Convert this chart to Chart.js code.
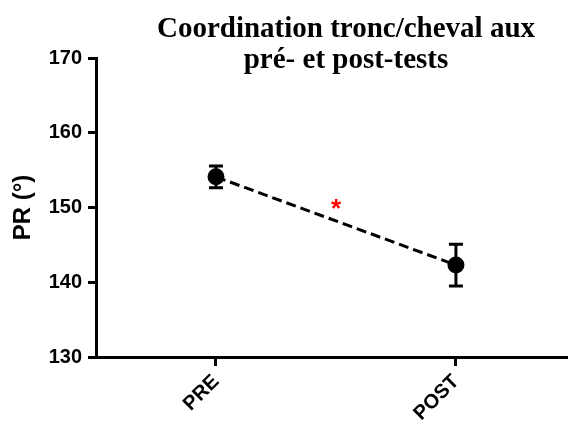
<!DOCTYPE html>
<html>
<head>
<meta charset="utf-8">
<script src="https://cdn.jsdelivr.net/npm/chart.js@4/dist/chart.umd.min.js"></script>
<style>
  body { margin: 0; background: #fff; }
  canvas { display: block; }
</style>
</head>
<body>
<canvas id="myChart" width="568" height="423"></canvas>
<script>
const categories = ['PRE', 'POST'];
const means = [154.1, 142.3];
const sem = [1.45, 2.8];
const yTicks = [130, 140, 150, 160, 170];
const titleLines = ['Coordination tronc/cheval aux', 'pré- et post-tests'];
// significance marker between the two tests
const sigMarks = [{ x: 0.5, y: 150.4, text: '*' }];

// error bars with caps, drawn through the scales
const errorBars = {
  id: 'errorBars',
  afterDatasetsDraw(chart) {
    const { ctx, scales: { x, y } } = chart;
    ctx.save();
    ctx.strokeStyle = '#000';
    ctx.lineWidth = 3;
    means.forEach((m, i) => {
      const px = x.getPixelForValue(i);
      const top = y.getPixelForValue(m + sem[i]);
      const bot = y.getPixelForValue(m - sem[i]);
      ctx.beginPath();
      ctx.moveTo(px, top); ctx.lineTo(px, bot);
      ctx.moveTo(px - 7, top); ctx.lineTo(px + 7, top);
      ctx.moveTo(px - 7, bot); ctx.lineTo(px + 7, bot);
      ctx.stroke();
    });
    ctx.fillStyle = '#ff0000';
    ctx.font = 'bold 26px "Liberation Sans", Arial, sans-serif';
    ctx.textAlign = 'center';
    ctx.textBaseline = 'middle';
    sigMarks.forEach(s => {
      ctx.fillText(s.text, x.getPixelForValue(s.x), y.getPixelForValue(s.y) + 5);
    });
    ctx.restore();
  }
};

// two-line serif title, overlapping the plot's top band like the original
const serifTitle = {
  id: 'serifTitle',
  afterDraw(chart) {
    const ctx = chart.ctx;
    ctx.save();
    ctx.fillStyle = '#000';
    ctx.font = 'bold 29px "Liberation Serif", "Times New Roman", serif';
    ctx.textAlign = 'center';
    ctx.textBaseline = 'alphabetic';
    ctx.fillText(titleLines[0], 346, 37);
    ctx.fillText(titleLines[1], 346, 68);
    ctx.restore();
  }
};

const ctx = document.getElementById('myChart').getContext('2d');

new Chart(ctx, {
  type: 'scatter',
  data: {
    datasets: [{
      data: means.map((v, i) => ({ x: i, y: v })),
      showLine: true,
      borderColor: '#000',
      borderWidth: 3,
      borderDash: [10, 5],
      pointRadius: 7,
      pointBackgroundColor: '#000',
      pointBorderColor: '#000'
    }]
  },
  options: {
    responsive: false,
    animation: false,
    layout: { autoPadding: false, padding: { top: 58, left: 0, right: 0, bottom: 0 } },
    plugins: {
      legend: { display: false },
      tooltip: { enabled: false }
    },
    scales: {
      x: {
        type: 'linear',
        min: -0.5,
        max: 1.467,
        afterBuildTicks: (scale) => { scale.ticks = categories.map((c, i) => ({ value: i })); },
        afterFit: (scale) => { scale.height = 66; },
        border: { display: true, color: '#000', width: 3 },
        grid: { drawOnChartArea: false, color: '#000', lineWidth: 3, tickLength: 9 },
        ticks: {
          autoSkip: false,
          minRotation: 45,
          maxRotation: 45,
          padding: 4,
          color: '#000',
          font: { family: '"Liberation Sans", Arial, sans-serif', size: 20, weight: 'bold' },
          callback: (v) => categories[v]
        }
      },
      y: {
        min: yTicks[0],
        max: yTicks[yTicks.length - 1],
        afterBuildTicks: (scale) => { scale.ticks = yTicks.map(v => ({ value: v })); },
        afterFit: (scale) => { scale.width = 96; },
        border: { display: true, color: '#000', width: 3 },
        grid: { drawOnChartArea: false, color: '#000', lineWidth: 3, tickLength: 8 },
        ticks: {
          padding: 6,
          color: '#000',
          font: { family: '"Liberation Sans", Arial, sans-serif', size: 20, weight: 'bold' }
        },
        title: {
          display: true,
          text: 'PR (°)',
          color: '#000',
          padding: { top: 9, bottom: 0 },
          font: { family: '"Liberation Sans", Arial, sans-serif', size: 24, weight: 'bold' }
        }
      }
    }
  },
  plugins: [errorBars, serifTitle]
});
</script>
</body>
</html>
